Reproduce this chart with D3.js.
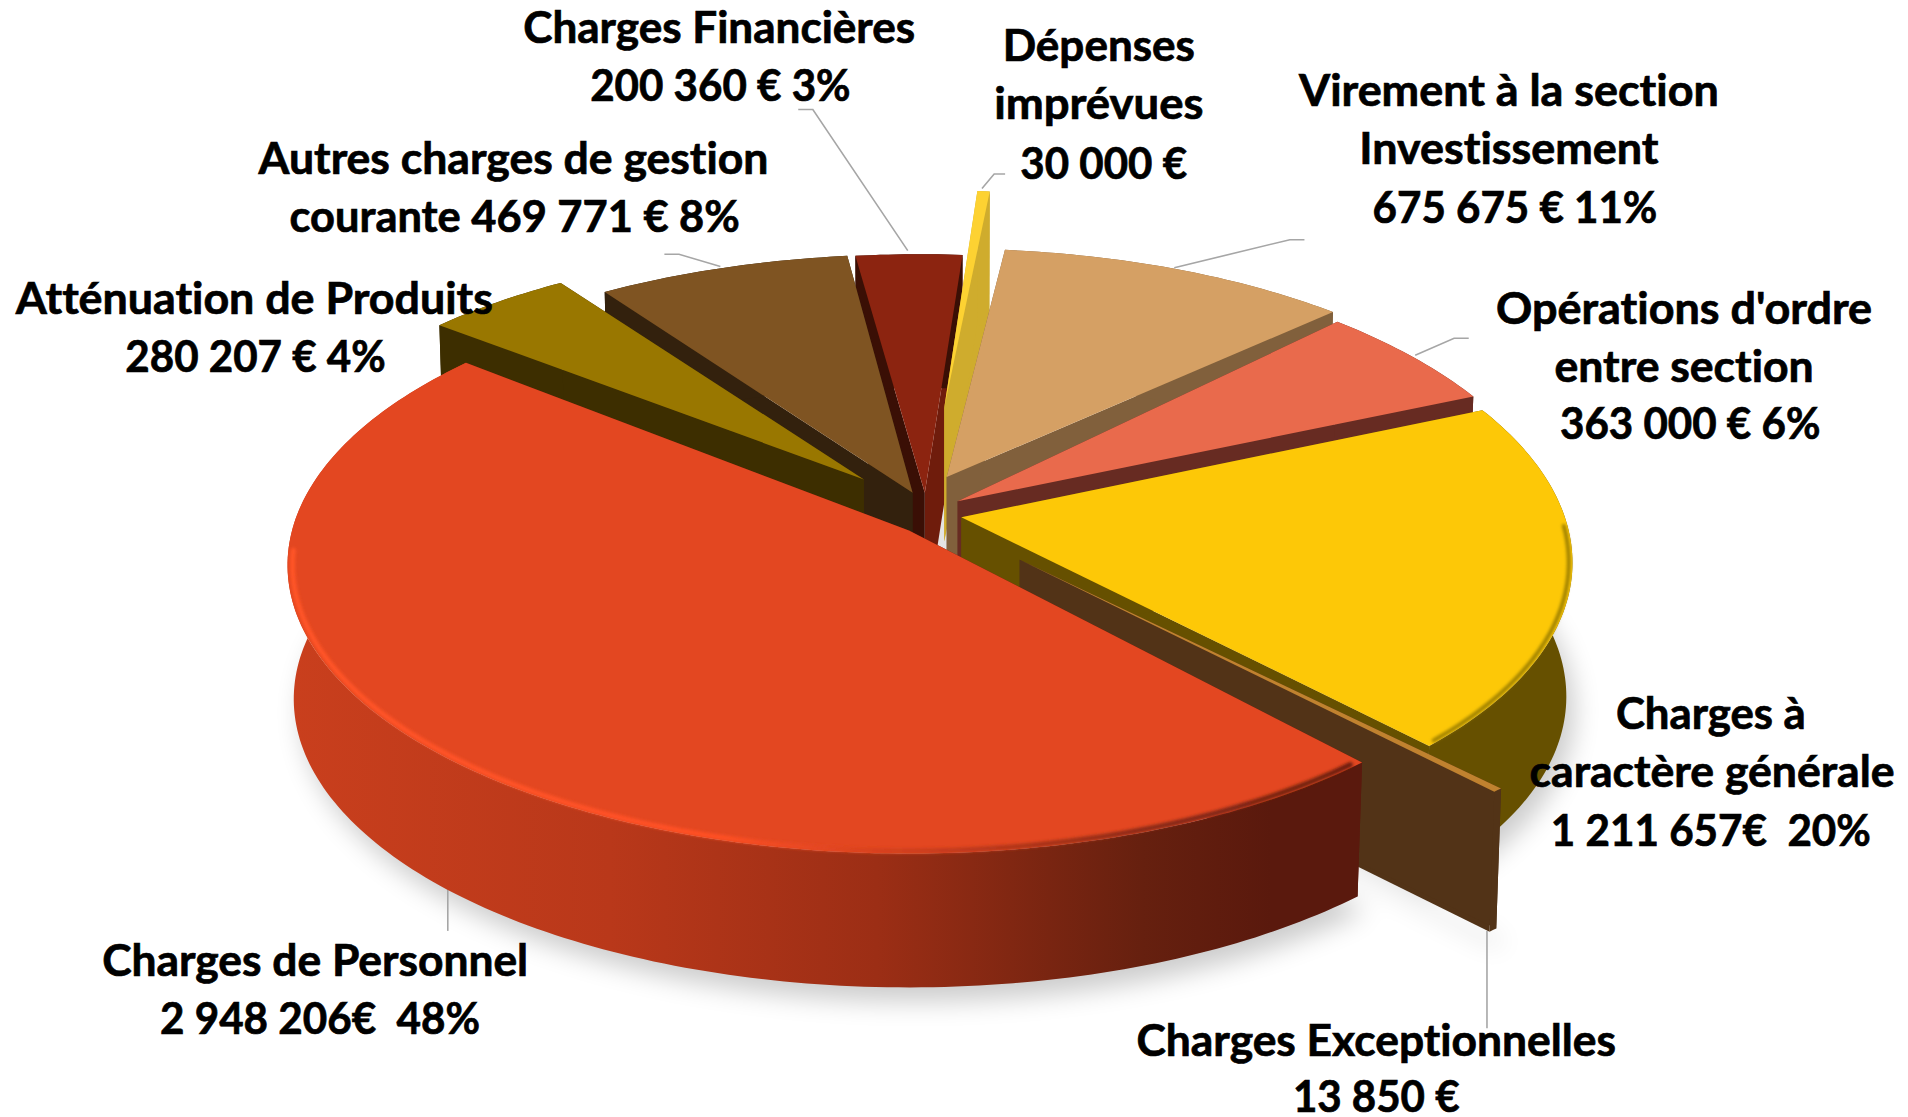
<!DOCTYPE html>
<html><head><meta charset="utf-8">
<script src="https://cdn.jsdelivr.net/npm/d3@7/dist/d3.min.js"></script>
<style>html,body{margin:0;padding:0;background:#fff;overflow:hidden}svg{display:block}</style>
</head><body><svg id="c" width="1908" height="1117"></svg>
<script>
// ---- data (clockwise from the top of the pie)
const categories = ["Dépenses imprévues","Virement à la section Investissement","Opérations d'ordre entre section","Charges à caractère générale","Charges Exceptionnelles","Charges de Personnel","Atténuation de Produits","Autres charges de gestion courante","Charges Financières"];
const amounts = [30000,675675,363000,1211657,13850,2948206,280207,469771,200360];
const labelLines = [
 ["Dépenses","imprévues","30 000 €"],
 ["Virement à la section","Investissement","675 675 € 11%"],
 ["Opérations d'ordre","entre section","363 000 € 6%"],
 ["Charges à","caractère générale","1 211 657€  20%"],
 ["Charges Exceptionnelles","13 850 €"],
 ["Charges de Personnel","2 948 206€  48%"],
 ["Atténuation de Produits","280 207 € 4%"],
 ["Autres charges de gestion","courante 469 771 € 8%"],
 ["Charges Financières","200 360 € 3%"]
];
// ---- styling / layout (in units of a 1568-wide picture)
const U = 1908/1568;
const topFill  = ["#fdd232","#d5a064","#e96a4c","#fdc807","#c0822f","#e34721","#997700","#7f5422","#8c2410"];
const sideFill = ["#cfac2d","#81603c","#672b22","#665000","#523317","url(#wallRed)","#3d2e00","#33210d","#3a0f05"];
const endFill  = ["#cfac2d","#81603c","#672b22","#665000","#523317","#5a190d","#3d2e00","#33210d","#6f1c0c"];
// apex of each exploded slice, x / y radius factors, shear and depth
const slicePose = [
 {ax:776,ay:335,gx:.75,gy:.856,sh:0,d:110},{ax:778,ay:392,gx:.96,gy:.90,sh:0,d:110},{ax:787,ay:412,gx:.98,gy:.98,sh:.08,d:110},
 {ax:790,ay:425,gx:.99,gy:1,sh:.08,d:110},{ax:838,ay:460,gx:1.06,gy:1,sh:0,d:115},{ax:747,ay:436,gx:1.012,gy:1,sh:0,d:110},
 {ax:710,ay:394,gx:.97,gy:.92,sh:0,d:110},{ax:750,ay:405,gx:.985,gy:.94,sh:0,d:110},{ax:760,ay:405,gx:.97,gy:.94,sh:.02,d:110}];
const paintOrder = [8,7,6,0,1,2,3,4,5];
const labelLayout = [
 {x:[903,903,907],y:[50,98,147],w:[158,172,137]},
 {x:[1240,1240,1245],y:[87,135,183],w:[345,246,234]},
 {x:[1384,1384,1389],y:[266,314,361],w:[309,213,214]},
 {x:[1406,1407,1406],y:[599,647,695],w:[156,300,263]},
 {x:[1131,1131],y:[868,914],w:[394,137]},
 {x:[259,263],y:[802,850],w:[350,263]},
 {x:[209,210],y:[258,306],w:[392,214]},
 {x:[422,423],y:[143,191],w:[419,370]},
 {x:[591,592],y:[35,83],w:[322,214]}];
const leaders = [
 [[807,155],[817,143],[826,143]],[[965,220],[1060,197],[1072,197]],[[1163,292],[1195,278],[1207,278]],
 [[1222,765],[1222,845]],[[368,765],[368,731]],[[592,219],[558,209],[546,209]],[[746,206],[668,90],[656,90]]];
const R=501, RK=233.6, P=.12, TAPER=.99;

// ---- layout of the pie with d3
const start = 4.65*Math.PI/180;
const arcs = d3.pie().sort(null).value(d=>d).startAngle(start).endAngle(start+2*Math.PI)(amounts);

function proj(i,a,bottom){
  const p=slicePose[i], z=-Math.cos(a), s=1/(1-P*z);
  const v=RK*z*s;
  let x=R*Math.sin(a)*s*p.gx+p.sh*v, y=v*p.gy;
  if(bottom){x*=TAPER; y+=p.d;}
  return [(p.ax+x)*U,(p.ay+y)*U];
}
function apex(i,bottom){const p=slicePose[i];return [p.ax*U,(p.ay+(bottom?p.d:0))*U];}
function arcPts(i,a0,a1,bottom){const n=Math.max(2,Math.ceil((a1-a0)*60));return d3.range(n+1).map(k=>proj(i,a0+(a1-a0)*k/n,bottom));}
const line=d3.line();
const closed=d3.line().curve(d3.curveLinearClosed);

const svg=d3.select("#c");
const defs=svg.append("defs");
function grad(id,x1,x2,stops){
  const g=defs.append("linearGradient").attr("id",id).attr("gradientUnits","userSpaceOnUse")
    .attr("x1",x1*U).attr("x2",x2*U).attr("y1",0).attr("y2",0);
  stops.forEach(s=>g.append("stop").attr("offset",s[0]).attr("stop-color",s[1]));
}
grad("wallRed",238,1115,[[0,"#c93f1d"],[.3,"#b9381a"],[.55,"#9c2e15"],[.8,"#66200f"],[.92,"#5a190d"],[1,"#5a190d"]]);
grad("rimRed",238,1115,[[0,"#ff5428"],[.4,"#ff5024"],[.6,"#c93c1c"],[.8,"#8a2a14"],[1,"#6a1e0f"]]);
const fb=defs.append("filter").attr("id","shadow").attr("x","-20%").attr("y","-20%").attr("width","140%").attr("height","140%");
fb.append("feGaussianBlur").attr("stdDeviation",13);
const fr=defs.append("filter").attr("id","rim").attr("x","-5%").attr("y","-5%").attr("width","110%").attr("height","110%");
fr.append("feGaussianBlur").attr("stdDeviation",1.6);

// soft shadow under the pie
const shadow=svg.append("g").attr("filter","url(#shadow)").attr("fill","#000").attr("opacity",.2).attr("transform","translate(8,14)");
[3,4,5].forEach(i=>{
  const d=arcs[i];
  shadow.append("path").attr("d",closed([apex(i,true),...arcPts(i,d.startAngle,d.endAngle,true)]));
});
svg.append("path").attr("d",closed([[768*U,380*U],[800*U,380*U],[800*U,455*U],[760*U,455*U]])).attr("fill","#e4e4e4");

// leaders behind the slices
svg.append("g").selectAll("path").data(leaders).join("path")
  .attr("d",d=>line(d.map(q=>[q[0]*U,q[1]*U]))).attr("fill","none").attr("stroke","#a6a6a6").attr("stroke-width",1.6);

// slices, painted back to front
const pie=svg.append("g");
paintOrder.forEach(i=>{
  const d=arcs[i], a0=d.startAngle, a1=d.endAngle;
  const g=pie.append("g");
  const topArc=arcPts(i,a0,a1,false), botArc=arcPts(i,a0,a1,true);
  // radial faces
  g.append("path").attr("fill",endFill[i]).attr("d",closed([apex(i),topArc[topArc.length-1],botArc[botArc.length-1],apex(i,true)]));
  g.append("path").attr("fill",sideFill[i]==="url(#wallRed)"?endFill[i]:sideFill[i]).attr("d",closed([apex(i),topArc[0],botArc[0],apex(i,true)]));
  // outer wall
  g.append("path").attr("fill",sideFill[i]).attr("d",closed([...topArc,...botArc.slice().reverse()]));
  // top surface
  g.append("path").attr("fill",topFill[i]).attr("d",closed([apex(i),...topArc]));
});
// bevelled rims on the two large slices, just inside the outer edge
const deg=Math.PI/180;
function inset(i,pts,f){const c=apex(i);return pts.map(q=>[c[0]+(q[0]-c[0])*f,c[1]+(q[1]-c[1])*f]);}
pie.append("path").attr("fill","none").attr("stroke","url(#rimRed)").attr("stroke-width",5).attr("filter","url(#rim)").attr("stroke-linecap","round")
  .attr("d",line(inset(5,arcPts(5,arcs[5].startAngle+1*deg,arcs[5].startAngle+128*deg,false),.992)));
pie.append("path").attr("fill","none").attr("stroke","#a08200").attr("stroke-width",4).attr("filter","url(#rim)").attr("stroke-linecap","round")
  .attr("d",line(inset(3,arcPts(3,arcs[3].startAngle+25*deg,arcs[3].endAngle-1*deg,false),.994)));

// labels
const labels=svg.append("g").attr("font-family","Lato, 'Noto Sans', sans-serif").attr("font-weight",700).attr("font-size",43)
  .attr("fill","#000").attr("stroke","#000").attr("stroke-width",.7).attr("text-anchor","middle").style("font-variant-ligatures","none");
labelLines.forEach((lines,i)=>{
  const L=labelLayout[i];
  lines.forEach((t,k)=>{
    labels.append("text").attr("x",L.x[k]*U).attr("y",L.y[k]*U)
      .attr("textLength",L.w[k]*U).attr("lengthAdjust","spacingAndGlyphs")
      .attr("xml:space","preserve").style("white-space","pre").text(t);
  });
});
</script></body></html>
